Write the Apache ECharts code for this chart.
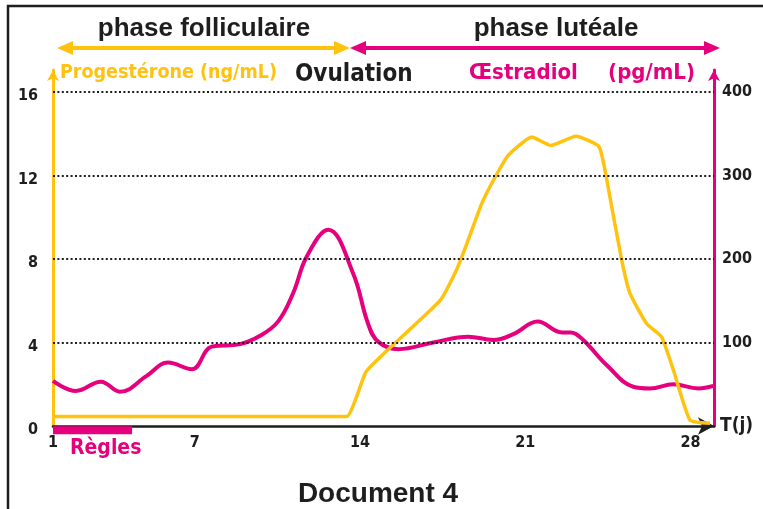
<!DOCTYPE html>
<html>
<head>
<meta charset="utf-8">
<script src="https://cdn.jsdelivr.net/npm/echarts@6/dist/echarts.min.js"></script>
<style>
  html, body { margin: 0; padding: 0; background: #fff; }
  #chart { width: 763px; height: 509px; }
</style>
</head>
<body>
<div id="chart"></div>
<script>
// Jour du cycle (j) et concentrations hormonales
const progDays = [1, 13.44, 13.86, 14.26, 15.42, 17.39, 18.10, 18.52, 19.16, 19.72, 20.29, 21.28, 22.08, 23.15, 24.14, 24.59, 25.09, 25.44, 26.15, 26.78, 27.28, 27.98, 28.83];
const progValues = [0.45, 0.45, 1.4, 2.6, 3.9, 6.0, 7.5, 8.7, 10.65, 11.9, 12.97, 13.84, 13.44, 13.88, 13.36, 10.97, 7.94, 6.35, 4.9, 4.27, 2.68, 0.29, 0.13];

const estrDays = [1, 1.97, 3.03, 3.84, 4.97, 5.87, 6.88, 7.72, 8.92, 9.77, 10.53, 11.17, 11.75, 12.66, 13.71, 14.34, 14.77, 15.63, 17.11, 18.59, 19.65, 20.50, 21.53, 22.55, 22.94, 23.46, 24.45, 25.58, 26.29, 27.28, 28.34, 28.97];
const estrValues = [54, 42, 53, 41, 60, 76, 68, 95, 98, 108, 125, 159, 203, 235, 183, 123, 101, 92, 100, 107, 103, 110, 125, 112, 112, 103, 73, 47, 45, 50, 45, 48];

const reglesDays = [1, 4.35];
const xTickLabels = [1, 7, 14, 21, 28];
const progTicks = [4, 8, 12, 16];

const YELLOW = '#FFC20E';
const PINK = '#E6007E';
const INK = '#1e1e1e';
const HAND = '"DejaVu Sans Condensed", "DejaVu Sans", sans-serif';
const SANS = '"Liberation Sans", Arial, sans-serif';

const pairs = (xs, ys) => xs.map((x, i) => [x, ys[i]]);

const chart = echarts.init(document.getElementById('chart'), null, { renderer: 'canvas' });

const tickFont = { fontFamily: HAND, fontWeight: 'bold', fontSize: 16, color: INK };

chart.setOption({
  animation: false,
  backgroundColor: '#fff',
  grid: { left: 53, right: 49, top: 70, bottom: 83, containLabel: false },
  xAxis: {
    type: 'value',
    min: 1,
    max: 29,
    interval: 1,
    name: 'T(j)',
    nameLocation: 'end',
    nameGap: 6,
    nameTextStyle: { fontFamily: HAND, fontWeight: 'bold', fontSize: 19, color: INK, verticalAlign: 'middle', padding: [6, 0, 0, 0] },
    axisLine: { show: true, symbol: ['none', 'arrow'], symbolSize: [13, 16], lineStyle: { color: INK, width: 2.5 } },
    axisTick: { show: false },
    splitLine: { show: false },
    axisLabel: {
      interval: 0,
      margin: 9,
      showMaxLabel: false,
      ...tickFont,
      formatter: v => (xTickLabels.indexOf(Math.round(v * 100) / 100) >= 0 ? String(v) : '')
    }
  },
  yAxis: [
    {
      type: 'value',
      min: 0,
      max: 17.05,
      interval: 4,
      position: 'left',
      axisLine: { show: true, symbol: ['none', 'arrow'], symbolSize: [9, 11], lineStyle: { color: YELLOW, width: 3 } },
      axisTick: { show: false },
      splitLine: { show: false },
      axisLabel: { margin: 15, showMaxLabel: false, ...tickFont, verticalAlign: 'top', lineHeight: 8 }
    },
    {
      type: 'value',
      min: 0,
      max: 426.25,
      interval: 100,
      position: 'right',
      axisLine: { show: true, symbol: ['none', 'arrow'], symbolSize: [9, 11], lineStyle: { color: PINK, width: 3 } },
      axisTick: { show: false },
      splitLine: { show: false },
      axisLabel: { margin: 8, showMaxLabel: false, ...tickFont, formatter: v => (v === 0 ? '' : String(v)) }
    }
  ],
  series: [
    {
      // dotted reference lines at the progesterone ticks
      type: 'line',
      yAxisIndex: 0,
      data: pairs(progDays, progValues),
      showSymbol: false,
      lineStyle: { width: 0, opacity: 0 },
      silent: true,
      z: 1,
      markLine: {
        silent: true,
        symbol: ['none', 'none'],
        label: { show: false },
        lineStyle: { color: INK, width: 2, type: [2, 2.4], cap: 'butt' },
        data: progTicks.map(v => ({ yAxis: v }))
      }
    },
    {
      name: 'Œstradiol',
      type: 'line',
      yAxisIndex: 1,
      data: pairs(estrDays, estrValues),
      smooth: 0.4,
      showSymbol: false,
      lineStyle: { color: PINK, width: 4 },
      z: 3
    },
    {
      name: 'Progestérone',
      type: 'line',
      yAxisIndex: 0,
      data: pairs(progDays, progValues),
      smooth: 0.15,
      showSymbol: false,
      lineStyle: { color: YELLOW, width: 3.5 },
      z: 4
    },
    {
      name: 'Règles',
      type: 'line',
      yAxisIndex: 0,
      data: reglesDays.map(d => [d, -0.2]),
      clip: false,
      showSymbol: false,
      lineStyle: { color: PINK, width: 8, cap: 'butt' },
      z: 2
    }
  ],
  graphic: [
    { type: 'polyline', shape: { points: [[8, 512], [8, 6], [766, 6]] }, style: { stroke: INK, lineWidth: 2.5, fill: null }, z: 10 },
    // phase folliculaire arrow
    { type: 'line', shape: { x1: 68, y1: 48, x2: 340, y2: 48 }, style: { stroke: YELLOW, lineWidth: 4 }, z: 10 },
    { type: 'polygon', shape: { points: [[57, 48], [73, 41], [73, 55]] }, style: { fill: YELLOW }, z: 10 },
    { type: 'polygon', shape: { points: [[350, 48], [334, 41], [334, 55]] }, style: { fill: YELLOW }, z: 10 },
    // phase lutéale arrow
    { type: 'line', shape: { x1: 362, y1: 48, x2: 708, y2: 48 }, style: { stroke: PINK, lineWidth: 4 }, z: 10 },
    { type: 'polygon', shape: { points: [[350, 48], [366, 41], [366, 55]] }, style: { fill: PINK }, z: 10 },
    { type: 'polygon', shape: { points: [[720, 48], [704, 41], [704, 55]] }, style: { fill: PINK }, z: 10 },
    { type: 'text', style: { text: 'phase folliculaire', x: 204, y: 29, align: 'center', verticalAlign: 'middle', font: 'bold 26px ' + SANS, fill: INK }, z: 10 },
    { type: 'text', style: { text: 'phase lutéale', x: 556, y: 29, align: 'center', verticalAlign: 'middle', font: 'bold 26px ' + SANS, fill: INK }, z: 10 },
    { type: 'text', style: { text: 'Progestérone (ng/mL)', x: 60, y: 73, align: 'left', verticalAlign: 'middle', font: 'bold 19.5px ' + HAND, fill: YELLOW }, z: 10 },
    { type: 'text', style: { text: 'Ovulation', x: 295, y: 75, align: 'left', verticalAlign: 'middle', font: 'bold 24px ' + HAND, fill: INK }, z: 10 },
    { type: 'text', style: { text: 'Œstradiol', x: 469, y: 73, align: 'left', verticalAlign: 'middle', font: 'bold 22px ' + HAND, fill: PINK }, z: 10 },
    { type: 'text', style: { text: '(pg/mL)', x: 695, y: 73, align: 'right', verticalAlign: 'middle', font: 'bold 22px ' + HAND, fill: PINK }, z: 10 },
    { type: 'text', style: { text: 'Règles', x: 70, y: 449, align: 'left', verticalAlign: 'middle', font: 'bold 21px ' + HAND, fill: PINK }, z: 10 },
    { type: 'text', style: { text: 'Document 4', x: 378, y: 494, align: 'center', verticalAlign: 'middle', font: 'bold 28px ' + SANS, fill: INK }, z: 10 }
  ]
});
</script>
</body>
</html>
